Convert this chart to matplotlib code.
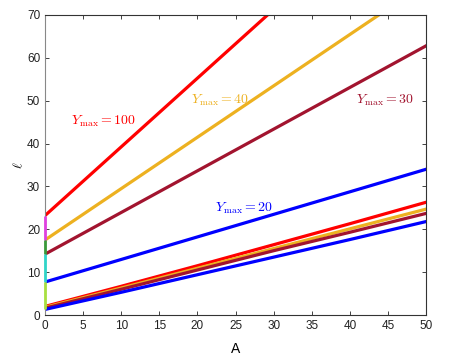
import numpy as np
import matplotlib
matplotlib.use("Agg")
import matplotlib.pyplot as plt

plt.rcParams['font.family'] = ['Liberation Sans', 'DejaVu Sans']
plt.rcParams['mathtext.fontset'] = 'cm'

# 上面四条线 (Y_max = 100, 40, 30, 20)
upper_x = [[0, 29.2], [0, 43.8], [0, 50], [0, 50]]
upper_y = [[23.2, 70], [17.5, 70], [14.2, 62.8], [7.7, 34.0]]
# 下面四条线
lower_x = [0, 10, 20, 30, 40, 50]
lower_y = [
    [2.0, 6.7, 11.5, 16.4, 21.3, 26.3],
    [1.8, 6.3, 10.9, 15.5, 20.1, 24.7],
    [1.6, 6.0, 10.5, 15.0, 19.3, 23.7],
    [1.3, 5.3, 9.4, 13.5, 17.6, 21.8],
]
line_colors = ['#ff0000', '#edb120', '#a2142f', '#0000ff']

# x=0 处的竖直连接段
seg_lo = [17.5, 14.2, 7.7, 1.3]
seg_hi = [23.2, 17.5, 14.2, 7.7]
seg_colors = ['#e040e0', '#3a9a3a', '#30d5c8', '#a8e040']

labels = [r'$Y_{\max} = 100$', r'$Y_{\max} = 40$', r'$Y_{\max} = 30$', r'$Y_{\max} = 20$']
label_pos = [(7.7, 45.3), (23.0, 50.2), (44.6, 50.2), (26.1, 25.0)]

fig = plt.figure(figsize=(4.51, 3.63), dpi=100)
ax = fig.add_axes([0.0998, 0.1322, 0.8448, 0.8265])

for lo, hi, c in zip(seg_lo, seg_hi, seg_colors):
    ax.plot([0, 0], [lo, hi], color=c, lw=2.0, solid_capstyle='butt', clip_on=False, zorder=3)

for xs, ys, c in zip(upper_x, upper_y, line_colors):
    ax.plot(xs, ys, color=c, lw=2.3)
for ys, c in zip(lower_y, line_colors):
    ax.plot(lower_x, ys, color=c, lw=2.3)

for t, (x, y), c in zip(labels, label_pos, line_colors):
    ax.text(x, y, t, color=c, fontsize=10, ha='center', va='center')

ax.set_xlim(0, 50)
ax.set_ylim(0, 70)
ax.set_xticks(np.arange(0, 51, 5))
ax.set_yticks(np.arange(0, 71, 10))
ax.tick_params(direction='in', top=True, right=True, labelsize=8.5, length=3, width=0.6, colors='#222222')
for s in ax.spines.values():
    s.set_linewidth(0.8)
    s.set_color('#333333')
ax.spines['left'].set_color('#888888')
ax.set_xlabel('A', fontsize=10, labelpad=7)
ax.set_ylabel(r'$\ell$', fontsize=10, labelpad=1)

fig.savefig('out.png', dpi=100)
